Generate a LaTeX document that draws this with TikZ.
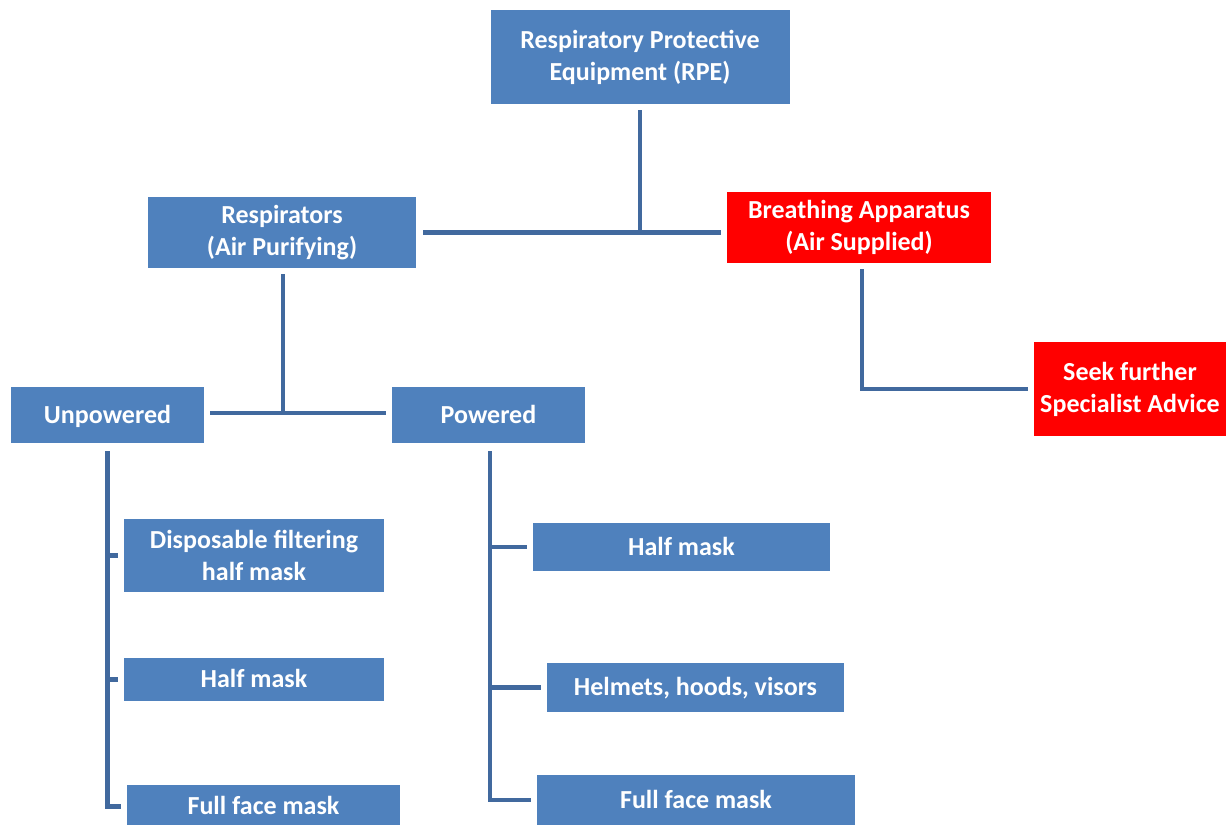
\documentclass[tikz,border=0pt]{standalone}
\usepackage{fontspec}
\setmainfont{Carlito}
\definecolor{boxblue}{HTML}{4F81BD}
\definecolor{lineblue}{HTML}{41699E}
\definecolor{boxred}{HTML}{FF0000}
\begin{document}
\begin{tikzpicture}[x=1pt,y=-1pt,
  box/.style={fill=boxblue, text=white, font=\fontsize{26}{32}\selectfont\bfseries, align=center, inner sep=0pt, anchor=center},
  oneline/.style={box, text height=19pt, text depth=3pt},
  redbox/.style={box, fill=boxred},
  conn/.style={draw=lineblue, line width=4.5pt}]
\useasboundingbox (0,0) rectangle (1230,824);
\clip (0,0) rectangle (1230,824);
\fill[white] (0,0) rectangle (1230,824);

\node[box, minimum width=299pt, minimum height=94pt] (rpe) at (640,57) {Respiratory Protective\\Equipment (RPE)};
\node[box, minimum width=268pt, minimum height=71pt] (resp) at (282,232.5) {Respirators\\(Air Purifying)};
\node[redbox, minimum width=264pt, minimum height=71pt] (ba) at (859,227.5) {Breathing Apparatus\\(Air Supplied)};
\node[redbox, minimum width=192pt, minimum height=94pt] (seek) at (1130,389) {Seek further\\Specialist Advice};
\node[oneline, minimum width=193pt, minimum height=56pt] (unp) at (107.5,415) {Unpowered};
\node[oneline, minimum width=193pt, minimum height=56pt] (pow) at (488.5,415) {Powered};
\node[box, minimum width=260pt, minimum height=73pt] (disp) at (254,555.5) {Disposable filtering\\half mask};
\node[oneline, minimum width=260pt, minimum height=43pt] (hml) at (254,679.5) {Half mask};
\node[oneline, minimum width=273pt, minimum height=43pt] (ffl) at (263.5,806.5) {Full face mask};
\node[oneline, minimum width=297pt, minimum height=48pt] (hmr) at (681.5,547) {Half mask};
\node[oneline, minimum width=297pt, minimum height=49pt] (helm) at (695.5,687.5) {Helmets, hoods, visors};
\node[oneline, minimum width=318pt, minimum height=50pt] (ffr) at (696,800) {Full face mask};

\coordinate (j1) at (640,232);
\coordinate (j2) at (283,413);

\draw[conn] (rpe.south) ++(0,6) -- (j1);
\draw[conn] (resp.east) ++(7,0) -- ++(298,0);
\draw[conn] (resp.south) ++(1,6) -- (j2);
\draw[conn] (unp.east) ++(6,-2) -- ++(176,0);
\draw[conn] (ba.south) ++(3,6) |- ([xshift=-6pt]seek.west);

\draw[conn] (unp.south) ++(0,8) |- ([xshift=-6pt]ffl.west);
\draw[conn] (unp.south |- disp.west) -- ([xshift=-6pt]disp.west);
\draw[conn] (unp.south |- hml.west) -- ([xshift=-6pt]hml.west);

\draw[conn] (pow.south) ++(1.5,8) |- ([xshift=-6pt]ffr.west);
\draw[conn] ([xshift=1.5pt]pow.south |- hmr.west) -- ([xshift=-6pt]hmr.west);
\draw[conn] ([xshift=1.5pt]pow.south |- helm.west) -- ([xshift=-6pt]helm.west);
\end{tikzpicture}
\end{document}
